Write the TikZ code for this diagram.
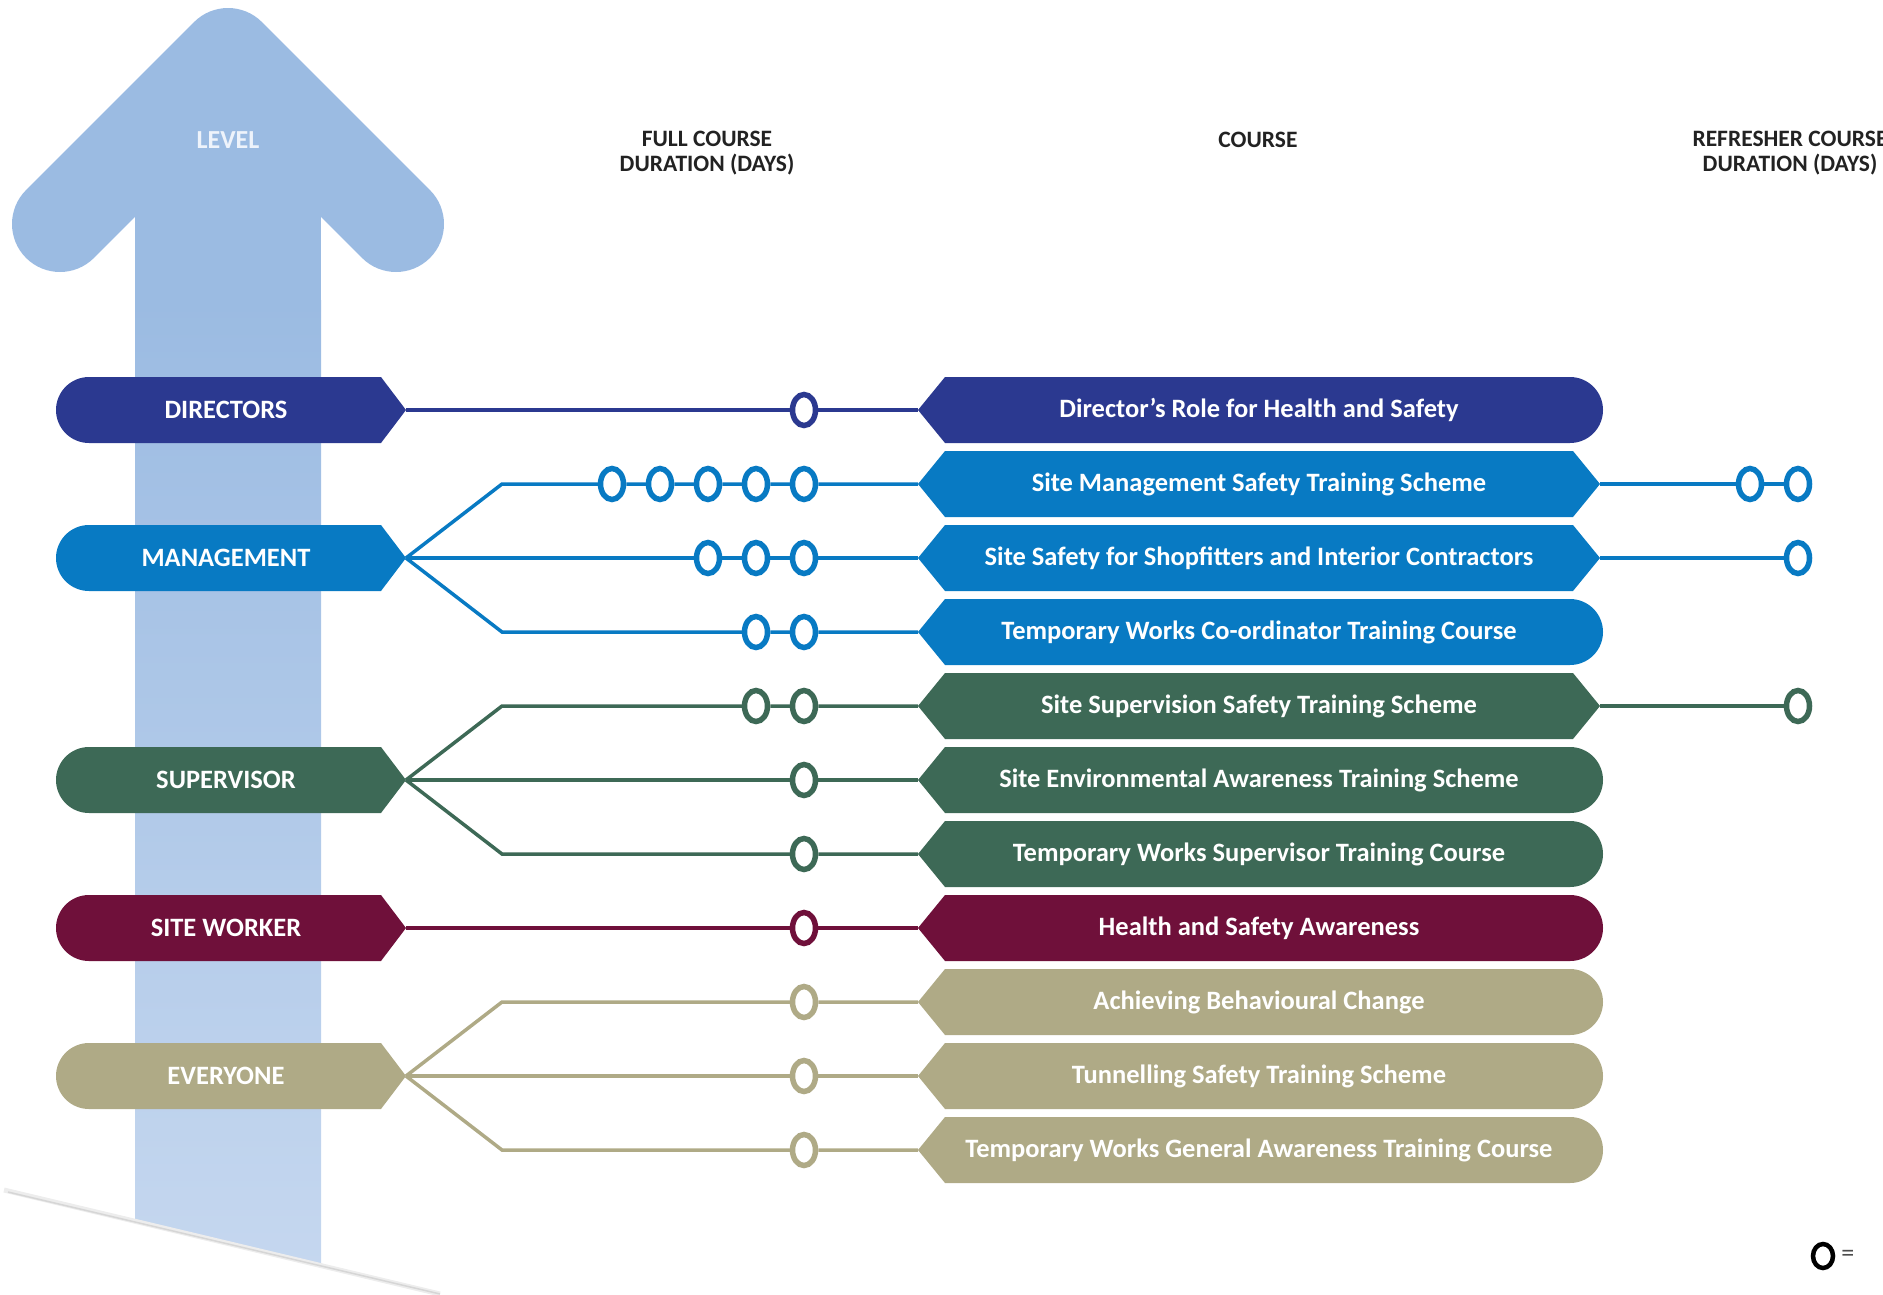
\documentclass[tikz,border=0pt]{standalone}
\usepackage{fontspec}
\setmainfont{Carlito}
\usepackage{tikz}
\usetikzlibrary{positioning, shapes.geometric}

\definecolor{dirC}{RGB}{43,57,144}
\definecolor{mgtC}{RGB}{8,122,195}
\definecolor{supC}{RGB}{61,105,86}
\definecolor{wrkC}{RGB}{111,16,58}
\definecolor{allC}{RGB}{175,170,134}
\definecolor{arrowC}{RGB}{155,187,226}
\definecolor{arrowL}{RGB}{197,215,239}
\definecolor{hdrC}{RGB}{34,34,34}
\definecolor{levelT}{RGB}{238,243,251}

\begin{document}
\begin{tikzpicture}[x=1pt, y=-1pt,
    lvl/.style={rectangle, minimum width=360pt, minimum height=66pt, inner sep=0pt, outer sep=0pt, text=white, font=\fontsize{26.5}{29}\selectfont\bfseries},
    crs/.style={rectangle, minimum width=682pt, minimum height=66pt, inner sep=0pt, outer sep=0pt, text=white, font=\fontsize{26.5}{29}\selectfont\bfseries},
    hdr/.style={align=center, text=hdrC, font=\fontsize{23.5}{25.5}\selectfont\bfseries},
    day/.style={ellipse, draw, fill=white, line width=5.5pt, minimum width=23pt, minimum height=31pt, inner sep=0pt},
    link/.style={line width=3.5pt}
]
    \useasboundingbox (0,0) rectangle (1883,1294);
    \clip (0,0) rectangle (1883,1294);

    % Level arrow
    \fill[arrowC] (135,118) rectangle (321,302);
    \shade[top color=arrowC, bottom color=arrowL] (135,300) -- (321,300) -- (321,1267) -- (135,1223) -- cycle;
    \draw[arrowC, line width=96pt, line cap=round, line join=round] (60,224) -- (228,56) -- (396,224);
    \draw[black!7, line width=5pt] (4,1190) -- (440,1294);
    \draw[black!16, line width=1.5pt] (8,1192) -- (440,1294);
    \node[font=\fontsize{26}{28}\selectfont\bfseries, text=levelT] (levelLbl) at (228,140) {LEVEL};

    % Headers
    \node[hdr] (hdrFull) at (707,153) {FULL COURSE\\DURATION (DAYS)};
    \node[hdr] (hdrCrs) at (1258,140) {COURSE};
    \node[hdr] (hdrRef) at (1790,153) {REFRESHER COURSE\\DURATION (DAYS)};

    % Level boxes
    \fill[dirC] (89,377) -- ++(292,0) -- ++(25,33) -- ++(-25,33) -- ++(-292,0) arc[start angle=90, end angle=270, radius=33] -- cycle;
    \fill[mgtC] (89,525) -- ++(292,0) -- ++(25,33) -- ++(-25,33) -- ++(-292,0) arc[start angle=90, end angle=270, radius=33] -- cycle;
    \fill[supC] (89,747) -- ++(292,0) -- ++(25,33) -- ++(-25,33) -- ++(-292,0) arc[start angle=90, end angle=270, radius=33] -- cycle;
    \fill[wrkC] (89,895) -- ++(292,0) -- ++(25,33) -- ++(-25,33) -- ++(-292,0) arc[start angle=90, end angle=270, radius=33] -- cycle;
    \fill[allC] (89,1043) -- ++(292,0) -- ++(25,33) -- ++(-25,33) -- ++(-292,0) arc[start angle=90, end angle=270, radius=33] -- cycle;
    \node[lvl] (dir) at (226,410) {DIRECTORS};
    \node[lvl] (mgmt) at (226,558) {MANAGEMENT};
    \node[lvl] (sup) at (226,780) {SUPERVISOR};
    \node[lvl] (wrk) at (226,928) {SITE WORKER};
    \node[lvl] (all) at (226,1076) {EVERYONE};

    % Course boxes
    \fill[dirC] (918,410) -- ++(27,-33) -- ++(625,0) arc[start angle=-90, end angle=90, radius=33] -- ++(-625,0) -- cycle;
    \fill[mgtC] (918,484) -- ++(27,-33) -- ++(628,0) -- ++(27,33) -- ++(-27,33) -- ++(-628,0) -- cycle;
    \fill[mgtC] (918,558) -- ++(27,-33) -- ++(628,0) -- ++(27,33) -- ++(-27,33) -- ++(-628,0) -- cycle;
    \fill[mgtC] (918,632) -- ++(27,-33) -- ++(625,0) arc[start angle=-90, end angle=90, radius=33] -- ++(-625,0) -- cycle;
    \fill[supC] (918,706) -- ++(27,-33) -- ++(628,0) -- ++(27,33) -- ++(-27,33) -- ++(-628,0) -- cycle;
    \fill[supC] (918,780) -- ++(27,-33) -- ++(625,0) arc[start angle=-90, end angle=90, radius=33] -- ++(-625,0) -- cycle;
    \fill[supC] (918,854) -- ++(27,-33) -- ++(625,0) arc[start angle=-90, end angle=90, radius=33] -- ++(-625,0) -- cycle;
    \fill[wrkC] (918,928) -- ++(27,-33) -- ++(625,0) arc[start angle=-90, end angle=90, radius=33] -- ++(-625,0) -- cycle;
    \fill[allC] (918,1002) -- ++(27,-33) -- ++(625,0) arc[start angle=-90, end angle=90, radius=33] -- ++(-625,0) -- cycle;
    \fill[allC] (918,1076) -- ++(27,-33) -- ++(625,0) arc[start angle=-90, end angle=90, radius=33] -- ++(-625,0) -- cycle;
    \fill[allC] (918,1150) -- ++(27,-33) -- ++(625,0) arc[start angle=-90, end angle=90, radius=33] -- ++(-625,0) -- cycle;
    \node[crs] (crsDir) at (1259,410) {Director's Role for Health and Safety};
    \node[crs] (crsSMS) at (1259,484) {Site Management Safety Training Scheme};
    \node[crs] (crsSSS) at (1259,558) {Site Safety for Shopfitters and Interior Contractors};
    \node[crs] (crsTWC) at (1259,632) {Temporary Works Co-ordinator Training Course};
    \node[crs] (crsSSTS) at (1259,706) {Site Supervision Safety Training Scheme};
    \node[crs] (crsSEA) at (1259,780) {Site Environmental Awareness Training Scheme};
    \node[crs] (crsTWS) at (1259,854) {Temporary Works Supervisor Training Course};
    \node[crs] (crsHSA) at (1259,928) {Health and Safety Awareness};
    \node[crs] (crsABC) at (1259,1002) {Achieving Behavioural Change};
    \node[crs] (crsTST) at (1259,1076) {Tunnelling Safety Training Scheme};
    \node[crs] (crsTWG) at (1259,1150) {Temporary Works General Awareness Training Course};

    % Duration days
    \node[day, draw=dirC] (dir1) at (804,410) {};
    \node[day, draw=mgtC] (sms5) at (804,484) {};
    \node[day, draw=mgtC] (sms4) at ([xshift=-48pt]sms5) {};
    \node[day, draw=mgtC] (sms3) at ([xshift=-48pt]sms4) {};
    \node[day, draw=mgtC] (sms2) at ([xshift=-48pt]sms3) {};
    \node[day, draw=mgtC] (sms1) at ([xshift=-48pt]sms2) {};
    \node[day, draw=mgtC] (sss3) at (804,558) {};
    \node[day, draw=mgtC] (sss2) at ([xshift=-48pt]sss3) {};
    \node[day, draw=mgtC] (sss1) at ([xshift=-48pt]sss2) {};
    \node[day, draw=mgtC] (twc2) at (804,632) {};
    \node[day, draw=mgtC] (twc1) at ([xshift=-48pt]twc2) {};
    \node[day, draw=supC] (ssts2) at (804,706) {};
    \node[day, draw=supC] (ssts1) at ([xshift=-48pt]ssts2) {};
    \node[day, draw=supC] (sea1) at (804,780) {};
    \node[day, draw=supC] (tws1) at (804,854) {};
    \node[day, draw=wrkC] (hsa1) at (804,928) {};
    \node[day, draw=allC] (abc1) at (804,1002) {};
    \node[day, draw=allC] (tst1) at (804,1076) {};
    \node[day, draw=allC] (twg1) at (804,1150) {};

    % Refresher days
    \node[day, draw=mgtC] (smsR2) at (1798,484) {};
    \node[day, draw=mgtC] (smsR1) at ([xshift=-48pt]smsR2) {};
    \node[day, draw=mgtC] (sssR1) at (1798,558) {};
    \node[day, draw=supC] (sstsR1) at (1798,706) {};

    % Fan points
    \coordinate (mgUp) at (502,484);
    \coordinate (mgDn) at (502,632);
    \coordinate (supUp) at (502,706);
    \coordinate (supDn) at (502,854);
    \coordinate (allUp) at (502,1002);
    \coordinate (allDn) at (502,1150);

    % Links
    \draw[link, dirC] (dir.east) -- (dir1) -- (crsDir.west);
    \draw[link, mgtC] (mgmt.east) -- (mgUp) -- (sms1) -- (sms2) -- (sms3) -- (sms4) -- (sms5) -- (crsSMS.west);
    \draw[link, mgtC] (mgmt.east) -- (sss1) -- (sss2) -- (sss3) -- (crsSSS.west);
    \draw[link, mgtC] (mgmt.east) -- (mgDn) -- (twc1) -- (twc2) -- (crsTWC.west);
    \draw[link, supC] (sup.east) -- (supUp) -- (ssts1) -- (ssts2) -- (crsSSTS.west);
    \draw[link, supC] (sup.east) -- (sea1) -- (crsSEA.west);
    \draw[link, supC] (sup.east) -- (supDn) -- (tws1) -- (crsTWS.west);
    \draw[link, wrkC] (wrk.east) -- (hsa1) -- (crsHSA.west);
    \draw[link, allC] (all.east) -- (allUp) -- (abc1) -- (crsABC.west);
    \draw[link, allC] (all.east) -- (tst1) -- (crsTST.west);
    \draw[link, allC] (all.east) -- (allDn) -- (twg1) -- (crsTWG.west);

    % Refresher links
    \draw[link, mgtC] (crsSMS.east) -- (smsR1) -- (smsR2);
    \draw[link, mgtC] (crsSSS.east) -- (sssR1);
    \draw[link, supC] (crsSSTS.east) -- (sstsR1);

    % Legend
    \node[day, draw=black, line width=4.5pt, minimum width=20pt, minimum height=24pt] (legDay) at (1823,1256) {};
    \node[right=6pt of legDay, inner sep=0pt, text=black!70, font=\fontsize{26}{28}\selectfont] (legEq) {=};
\end{tikzpicture}
\end{document}
